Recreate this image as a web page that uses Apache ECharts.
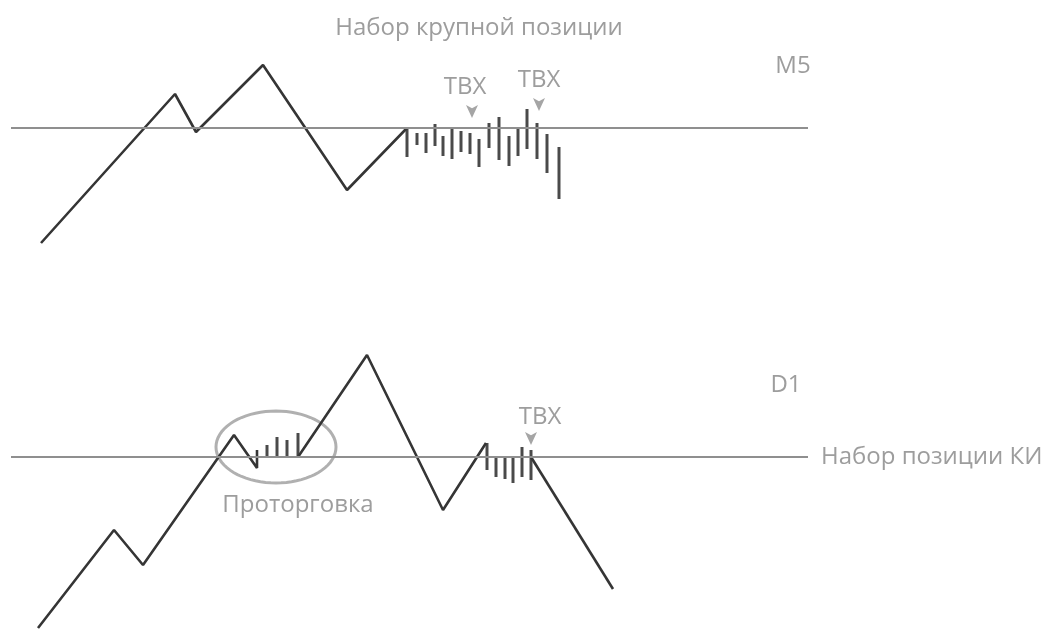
<!DOCTYPE html>
<html>
<head>
<meta charset="utf-8">
<script src="https://cdn.jsdelivr.net/npm/echarts@6/dist/echarts.min.js"></script>
<style>
  html, body { margin: 0; padding: 0; background: #fff; }
  #chart { width: 1062px; height: 629px; }
</style>
</head>
<body>
<div id="chart"></div>
<script>
// верхний график (M5): x - время, y - цена относительно уровня (уровень = 0)
var topPathX = [41, 175, 196, 263, 347, 407];
var topPathY = [-115, 34, -4, 63, -62, 0];
// бары набора позиции: [x, high, low]
var topBars = [
  [407, 0, -29], [417, -5, -17], [426, -5, -25], [435, 4, -18],
  [443, -8, -28], [452, -1, -31], [461, -3, -24], [470, -5, -26],
  [479, -11, -39], [489, 5, -20], [499, 11, -32], [509, -8, -38],
  [518, -1, -28], [527, 19, -21], [537, 5, -31], [547, -6, -45],
  [559, -19, -71]
];
var topArrows = [[472, 10], [539, 17]];
var topLabels = [['Набор крупной позиции', 479, 100], ['ТВХ', 465, 41], ['ТВХ', 539, 48], ['M5', 793, 62]];

// нижний график (D1)
var botPath1X = [38, 114, 143, 234, 257, 257];
var botPath1Y = [-171, -73, -108, 22, -11, 7];
var botPath2X = [298, 367, 443, 486];
var botPath2Y = [0, 102, -53, 14];
var botPath3X = [531, 613];
var botPath3Y = [0, -132];
var botBars = [
  [267, 12, 1], [277, 20, 1], [287, 17, 1], [298, 24, 0],
  [487, 14, -13], [496, -1, -20], [505, -1, -22], [513, 1, -26],
  [522, 10, -20], [531, 7, -23]
];
var botArrows = [[531, 12]];
var botLabels = [['ТВХ', 540, 40], ['D1', 786, 72], ['Проторговка', 298, -48]];
var sideLabel = ['Набор позиции КИ', 821, 0];
// эллипс "проторговки": [cx, cy, rx, ry]
var rangeEllipse = [[276, 10, 60, 36]];

var levelFrom = 11, levelTo = 808;
var LINE = '#353535', BAR = '#4a4a4a', LEVEL = '#8f8f8f', TEXT = '#858585';
var FONT = '"Open Sans", "Noto Sans", sans-serif';

function zip(xs, ys) { return xs.map(function (x, i) { return [x, ys[i]]; }); }

function barItem(params, api) {
  var p1 = api.coord([api.value(0), api.value(1)]);
  var p2 = api.coord([api.value(0), api.value(2)]);
  return {
    type: 'line',
    shape: { x1: p1[0], y1: p1[1], x2: p2[0], y2: p2[1] },
    style: { stroke: BAR, lineWidth: 3 }
  };
}

function ellipseItem(params, api) {
  var c = api.coord([api.value(0), api.value(1)]);
  var s = api.size([api.value(2), api.value(3)]);
  var pts = [];
  for (var i = 0; i <= 72; i++) {
    var a = i / 72 * Math.PI * 2;
    pts.push([c[0] + s[0] * Math.cos(a), c[1] + s[1] * Math.sin(a)]);
  }
  return {
    type: 'polyline',
    shape: { points: pts },
    style: { stroke: '#b0b0b0', lineWidth: 3, fill: null }
  };
}

function pathSeries(data, idx, level) {
  var s = {
    type: 'line', xAxisIndex: idx, yAxisIndex: idx, data: data,
    symbol: 'none', lineStyle: { color: LINE, width: 2.6 }, z: 3, silent: true
  };
  if (level) {
    s.markLine = {
      silent: true, symbol: 'none', label: { show: false },
      lineStyle: { color: LEVEL, width: 2, type: 'solid' },
      data: [[{ coord: [levelFrom, 0] }, { coord: [levelTo, 0] }]]
    };
  }
  return s;
}

function labelSeries(list, idx, pos) {
  return {
    type: 'scatter', xAxisIndex: idx, yAxisIndex: idx, symbolSize: 0, silent: true, clip: false,
    data: list.map(function (d) { return { value: [d[1], d[2]], name: d[0] }; }),
    label: {
      show: true, position: pos || 'inside', distance: 0, formatter: '{b}',
      color: TEXT, fontSize: 24, fontFamily: FONT
    }
  };
}

function arrowSeries(list, idx) {
  return {
    type: 'scatter', xAxisIndex: idx, yAxisIndex: idx, data: list, silent: true,
    symbol: 'arrow', symbolRotate: 180, symbolSize: [9, 13],
    itemStyle: { color: '#8e8e8e' }, z: 4
  };
}

var chart = echarts.init(document.getElementById('chart'));
chart.setOption({
  backgroundColor: '#fff',
  animation: false,
  grid: [
    { left: 0, right: 0, top: 40, height: 220 },
    { left: 0, right: 0, top: 330, height: 299 }
  ],
  xAxis: [
    { type: 'value', gridIndex: 0, min: 0, max: 1062, show: false },
    { type: 'value', gridIndex: 1, min: 0, max: 1062, show: false }
  ],
  yAxis: [
    { type: 'value', gridIndex: 0, min: -132, max: 88, show: false },
    { type: 'value', gridIndex: 1, min: -172, max: 127, show: false }
  ],
  series: [
    pathSeries(zip(topPathX, topPathY), 0, true),
    { type: 'custom', xAxisIndex: 0, yAxisIndex: 0, data: topBars, renderItem: barItem, z: 3, silent: true },
    arrowSeries(topArrows, 0),
    labelSeries(topLabels, 0),

    pathSeries(zip(botPath1X, botPath1Y), 1, true),
    pathSeries(zip(botPath2X, botPath2Y), 1, false),
    pathSeries(zip(botPath3X, botPath3Y), 1, false),
    { type: 'custom', xAxisIndex: 1, yAxisIndex: 1, data: botBars, renderItem: barItem, z: 3, silent: true },
    { type: 'custom', xAxisIndex: 1, yAxisIndex: 1, data: rangeEllipse, renderItem: ellipseItem, z: 2, silent: true },
    arrowSeries(botArrows, 1),
    labelSeries(botLabels, 1),
    labelSeries([sideLabel], 1, 'right')
  ]
});
</script>
</body>
</html>
